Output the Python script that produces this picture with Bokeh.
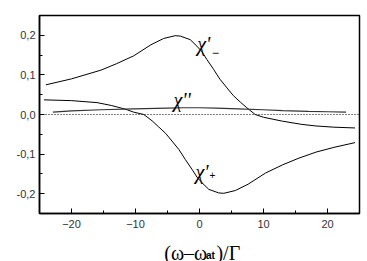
from bokeh.plotting import figure
from bokeh.layouts import column
from bokeh.models import Range1d, FixedTicker, CustomJSTickFormatter, Label, Span
from bokeh.embed import file_html
from bokeh.resources import INLINE

# chi'_- (upper dispersion curve)
xm = [-24, -20, -15.4, -13, -10.3, -7.6, -5.6, -3.8, -3.0, -1.45, -0.4, 0.4, 1.15, 2.2, 3.2,
      4.3, 5.3, 6.4, 7.4, 8.7, 10, 13, 16, 18.2, 21, 24.3]
ym = [0.075, 0.09, 0.112, 0.128, 0.148, 0.176, 0.192, 0.199, 0.198, 0.189, 0.1725, 0.158,
      0.139, 0.114, 0.089, 0.067, 0.0475, 0.031, 0.017, 0.0, -0.007, -0.017, -0.025,
      -0.029, -0.032, -0.034]

# chi'_+ (lower dispersion curve)
xp = [-24.3, -20, -16, -13.7, -11.5, -10.3, -8.7, -7.4, -6.4, -5.3, -4.3, -3.2, -2.2,
      -1.15, -0.4, 0.4, 1.45, 3.0, 3.8, 5.6, 7.6, 10.3, 13, 15.4, 18.2, 21, 24.3]
yp = [0.037, 0.035, 0.03, 0.0225, 0.013, 0.006, 0.0, -0.016, -0.031, -0.0475, -0.067,
      -0.089, -0.114, -0.139, -0.158, -0.1725, -0.189, -0.198, -0.199, -0.192, -0.176,
      -0.148, -0.127, -0.111, -0.095, -0.083, -0.071]

# chi'' (absorption)
xa = [-22.9, -20, -15.4, -10.3, -5, -2.5, 0, 2.6, 6, 10, 13, 17, 20, 22.9]
ya = [0.006, 0.009, 0.012, 0.014, 0.016, 0.017, 0.017, 0.016, 0.014, 0.012, 0.01, 0.008,
      0.007, 0.006]

x_ticks = [-20, -10, 0, 10, 20]
x_minor = [-25, -15, -5, 5, 15, 25]
y_ticks = [-0.2, -0.1, 0.0, 0.1, 0.2]
y_minor = [-0.25, -0.15, -0.05, 0.05, 0.15, 0.25]

p = figure(width=361, height=232, output_backend="svg", toolbar_location=None,
           x_range=Range1d(-25, 25), y_range=Range1d(-0.25, 0.25),
           min_border_left=39, min_border_right=2, min_border_top=15, min_border_bottom=19)
p.grid.visible = False
p.outline_line_color = "black"
p.outline_line_width = 1.5
p.background_fill_color = "white"
p.border_fill_color = "white"

for ax in (p.xaxis[0], p.yaxis[0]):
    ax.axis_line_color = "black"
    ax.axis_line_width = 1.5
    ax.major_tick_in = 5
    ax.major_tick_out = 0
    ax.minor_tick_in = 3
    ax.minor_tick_out = 0
    ax.major_tick_line_color = "black"
    ax.minor_tick_line_color = "black"
    ax.major_label_text_font = "Liberation Sans"
    ax.major_label_text_font_size = "11px"
    ax.major_label_text_color = "#333333"

p.xaxis[0].ticker = FixedTicker(ticks=x_ticks, minor_ticks=x_minor)
p.yaxis[0].ticker = FixedTicker(ticks=y_ticks, minor_ticks=y_minor)
p.xaxis[0].major_label_standoff = 6
p.yaxis[0].major_label_standoff = 4
p.yaxis[0].formatter = CustomJSTickFormatter(code="return tick.toFixed(1).replace('.', ',');")

p.add_layout(Span(location=0, dimension="width", line_color="black",
                  line_width=1, line_dash="1 2"))

p.line(xm, ym, line_color="black", line_width=1)
p.line(xp, yp, line_color="black", line_width=1)
p.line(xa, ya, line_color="#333333", line_width=1.2)

serif = "Liberation Serif"
sans = "Liberation Sans"

def lab(fig, x, y, t, font, size, style="normal"):
    fig.add_layout(Label(x=x, y=y, text=t, text_font=font, text_font_size=size,
                         text_font_style=style, text_color="black",
                         text_baseline="alphabetic", text_align="left"))

# curve labels
lab(p, -0.36, 0.179, "χ'", serif, "20px", "italic")
lab(p, 1.95, 0.157, "−", sans, "12px")
lab(p, -4.06, 0.0354, "χ''", serif, "20px", "italic")
lab(p, -0.625, -0.144, "χ'", serif, "20px", "italic")
lab(p, 1.56, -0.154, "+", sans, "10px")

# strip below for the axis title, sharing the x scale
t = figure(width=361, height=29, output_backend="svg", toolbar_location=None,
           title=None, x_range=p.x_range, y_range=Range1d(0, 29),
           x_axis_location=None, y_axis_location=None,
           min_border_left=39, min_border_right=2, min_border_top=0, min_border_bottom=0)
t.grid.visible = False
t.outline_line_color = None
t.background_fill_color = "white"
t.border_fill_color = "white"

lab(t, -5.5, 8.8, "(ω–ω", serif, "20px")
lab(t, 1.0, 6.2, "at", sans, "10px", "bold")
lab(t, 2.65, 8.8, ")/Γ", serif, "20px")

layout = column(p, t, spacing=0)
open("out.html", "w").write(file_html(layout, INLINE))
